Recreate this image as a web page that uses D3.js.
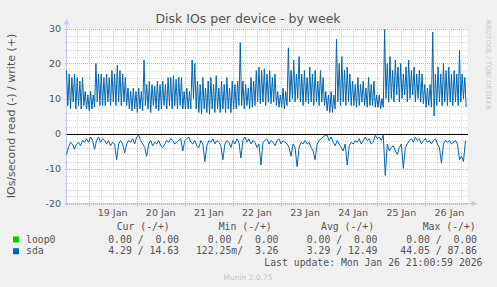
<!DOCTYPE html>
<html>
<head>
<meta charset="utf-8">
<script src="https://cdn.jsdelivr.net/npm/d3@7"></script>
<style>
  body { margin: 0; background: #f0f0f0; }
  svg { display: block; }
  text { font-family: "DejaVu Sans", sans-serif; fill: #555; }
  .mono { font-family: "DejaVu Sans Mono", monospace; white-space: pre; }
</style>
</head>
<body>
<div id="chart"></div>
<script>
const width = 497, height = 287;

// sda write (+), one value every 40 minutes from 18 Jan 13:00
const sdaWrite = [
  18, 8, 17, 7, 16, 9, 17, 7, 16, 8,
  15, 7, 16, 8, 12, 7, 11, 6.5, 12, 7,
  11, 7.5, 20, 9, 17, 8, 17, 8, 16, 8,
  17, 9, 16, 8, 18, 9, 17, 8, 19.5, 9,
  18, 8, 17, 9, 16, 8, 13, 7, 12, 6.5,
  13, 7, 12, 6, 13, 7, 12, 6.5, 21, 8,
  14, 7, 15, 6, 14, 8, 13.5, 7, 15, 6.5,
  14, 7, 15, 8, 14, 7, 16, 8, 16, 7,
  16.5, 8, 15.5, 7, 16, 8, 16, 7, 12, 7,
  13, 7, 12, 7, 21, 10, 20, 7, 15, 6,
  14, 5.5, 16, 7, 13, 6, 15, 5.5, 16, 7,
  14, 6, 16.5, 7, 13, 6, 15, 7, 14, 6,
  16, 7, 13, 6, 15, 7, 14, 7, 15, 8,
  26, 8, 15, 7, 14, 8, 13, 7, 16, 7.5,
  15, 8, 18, 9, 19, 8.5, 18, 9, 18.5, 8,
  17, 9, 18, 8.5, 16, 9, 17, 8, 12, 7.5,
  11, 7.5, 13, 7, 12, 8, 24.5, 9, 18, 10,
  21, 9, 17, 10, 22, 9, 17, 8, 18, 9,
  16, 8.5, 19, 9, 17, 8, 18, 9, 15, 8,
  18, 9, 16, 8, 12, 6.5, 11, 6, 12, 6,
  11, 7, 27, 9, 20, 8, 22, 9, 18, 8,
  19, 9, 17, 8, 15, 8, 14, 7.5, 16, 8,
  14, 9, 15, 8, 13, 7.5, 16, 8, 14, 8,
  15, 7.5, 11, 7.5, 11, 7, 10, 7.5, 29.7, 10,
  20, 9, 22, 10, 18, 9, 21, 11, 19, 9,
  20, 10, 17, 11, 19, 9, 21, 10, 18, 11,
  19, 9, 17, 10, 18, 9, 17, 8.5, 14, 7.5,
  13, 8, 14, 7.5, 29, 5, 17, 8, 19, 9,
  17, 8, 20, 9, 18, 8, 19, 9, 17, 8,
  18, 9, 17, 8, 23.7, 9, 17, 10, 16, 7.6
];

// sda read (-), one value every hour from 18 Jan 13:00
const sdaRead = [
  -6, -4, -2.5, -3, -4.5, -3, -2.5, -3.5, -2, -2.5,
  -1.5, -2.5, -1, -2, -4.5, -2, -1, -2.5, -1.5, -2,
  -3, -2, -3.5, -2.5, -3, -7.5, -3, -2, -3, -5.5,
  -3, -2, -2.5, -1.5, -3, -1, -0.5, -2, -3, -4,
  -6.5, -3, -2, -3.5, -2.5, -3, -2, -3.5, -4, -3,
  -2, -2.5, -1.5, -2, -3, -2.5, -2, -1.5, -5, -2,
  -1.5, -1, -2.5, -3, -2, -3.5, -4, -2, -3, -8,
  -3.5, -2, -2.5, -1.5, -3, -2, -2.5, -3.5, -7.5, -3,
  -2, -2.5, -4, -2, -3, -1.5, -2.5, -7, -2, -1,
  -2.5, -1.5, -3, -2, -2.5, -4, -3, -9, -2.5, -2,
  -1.5, -3, -2, -2.5, -3.5, -2, -1.5, -3, -2, -2.5,
  -3, -4, -6.5, -3, -4, -9.5, -4, -2.5, -3, -2,
  -3, -2.5, -4, -5, -7.5, -3, -2, -1.5, -1, -0.5,
  -0.5, -2, -1, -2.5, -3.5, -2, -3, -4, -5, -3,
  -9, -3.5, -2.5, -3, -2, -2.5, -1.5, -3, -2, -1,
  -2, -1.5, -3, -2.5, -0.5, -1.5, -1, -2, -0.5, -12,
  -3, -5, -4, -3.5, -5, -6, -4, -3, -10, -4,
  -3, -2, -1.5, -2.5, -1, -2, -1.5, -3, -2, -1.5,
  -2.5, -2, -3, -2, -1.5, -3, -4, -8.5, -3, -2,
  -2.5, -2, -3, -2.5, -2, -3, -7.5, -6.5, -8, -2
];

const yTicks = [30, 20, 10, 0, -10, -20];
const dayLabels = ["19 Jan", "20 Jan", "21 Jan", "22 Jan", "23 Jan", "24 Jan", "25 Jan", "26 Jan"];

const legendNames = ["loop0", "sda"];
const legendColors = ["#00cc00", "#0066b3"];
const legendCur = ["0.00 /  0.00", "4.29 / 14.63"];
const legendMin = ["0.00 /  0.00", "122.25m/  3.26"];
const legendAvg = ["0.00 /  0.00", "3.29 / 12.49"];
const legendMax = ["0.00 /  0.00", "44.05 / 87.86"];

const start = new Date(2026, 0, 18, 13);
const end = new Date(2026, 0, 26, 21);
const plot = {left: 66.5, right: 467.5, top: 28.5, bottom: 203.5};

const x = d3.scaleTime().domain([start, end]).range([plot.left, plot.right]);
const y = d3.scaleLinear().domain([-20, 30]).range([plot.bottom, plot.top]);

const svg = d3.select("#chart").append("svg")
  .attr("width", width)
  .attr("height", height);

svg.append("rect").attr("width", width).attr("height", height).attr("fill", "#f0f0f0");
svg.append("rect")
  .attr("x", plot.left).attr("y", plot.top)
  .attr("width", plot.right - plot.left).attr("height", plot.bottom - plot.top)
  .attr("fill", "#fff");

// grid
const grid = svg.append("g").attr("shape-rendering", "crispEdges").attr("stroke-dasharray", "1,1");
const minorY = d3.range(-20, 31, 2).filter(v => v % 10 !== 0);
grid.selectAll(".hmin").data(minorY).join("line")
  .attr("x1", plot.left - 2).attr("x2", plot.right)
  .attr("y1", d => Math.round(y(d)) + 0.5).attr("y2", d => Math.round(y(d)) + 0.5)
  .attr("stroke", "#dadada");
const sixHours = d3.timeHour.every(6).range(start, end).filter(d => d.getHours() !== 0);
grid.selectAll(".vmin").data(sixHours).join("line")
  .attr("x1", d => Math.round(x(d)) + 0.5).attr("x2", d => Math.round(x(d)) + 0.5)
  .attr("y1", plot.top).attr("y2", plot.bottom + 2)
  .attr("stroke", "#dadada");
grid.selectAll(".hmaj").data(yTicks).join("line")
  .attr("x1", plot.left - 2).attr("x2", plot.right)
  .attr("y1", d => Math.round(y(d)) + 0.5).attr("y2", d => Math.round(y(d)) + 0.5)
  .attr("stroke", "#f2a6a6");
const days = d3.timeDay.range(start, end);
grid.selectAll(".vmaj").data(days).join("line")
  .attr("x1", d => Math.round(x(d)) + 0.5).attr("x2", d => Math.round(x(d)) + 0.5)
  .attr("y1", plot.top).attr("y2", plot.bottom + 2)
  .attr("stroke", "#f2a6a6");

// axes with arrows
const axisColor = "#c8c8f4";
svg.append("line")
  .attr("x1", plot.left).attr("x2", plot.left)
  .attr("y1", plot.bottom + 2).attr("y2", plot.top - 6)
  .attr("stroke", axisColor);
svg.append("path")
  .attr("d", `M${plot.left - 3},${plot.top - 4}L${plot.left},${plot.top - 10}L${plot.left + 3},${plot.top - 4}Z`)
  .attr("fill", axisColor);
svg.append("line")
  .attr("x1", plot.left - 2).attr("x2", plot.right + 6)
  .attr("y1", plot.bottom).attr("y2", plot.bottom)
  .attr("stroke", axisColor);
svg.append("path")
  .attr("d", `M${plot.right + 4},${plot.bottom - 3}L${plot.right + 10},${plot.bottom}L${plot.right + 4},${plot.bottom + 3}Z`)
  .attr("fill", axisColor);

// data lines
const lineWrite = d3.line()
  .x((d, i) => x(d3.timeMinute.offset(start, i * 40)))
  .y(d => y(d));
const lineRead = d3.line()
  .x((d, i) => x(d3.timeHour.offset(start, i)))
  .y(d => y(d));

svg.append("path").datum(sdaRead)
  .attr("d", lineRead).attr("fill", "none")
  .attr("stroke", "#0066b3").attr("stroke-width", 1);
svg.append("path").datum(sdaWrite)
  .attr("d", lineWrite).attr("fill", "none")
  .attr("stroke", "#0066b3").attr("stroke-width", 1);

// zero rule
svg.append("line")
  .attr("x1", plot.left).attr("x2", plot.right)
  .attr("y1", Math.round(y(0)) + 0.5).attr("y2", Math.round(y(0)) + 0.5)
  .attr("stroke", "#000").attr("shape-rendering", "crispEdges");

// tick labels
svg.append("g").selectAll("text").data(yTicks).join("text")
  .attr("x", 61).attr("y", d => y(d) + 3.5)
  .attr("text-anchor", "end").attr("font-size", 9.5)
  .text(d => d);

svg.append("g").selectAll("text").data(dayLabels).join("text")
  .attr("x", (d, i) => x(d3.timeHour.offset(days[i], 12)))
  .attr("y", 216)
  .attr("text-anchor", "middle").attr("font-size", 9.5)
  .text(d => d);

// title and labels
svg.append("text")
  .attr("x", 248).attr("y", 22.5)
  .attr("text-anchor", "middle").attr("font-size", 12.5)
  .text("Disk IOs per device - by week");

svg.append("text")
  .attr("transform", `translate(14.5,116) rotate(-90)`)
  .attr("text-anchor", "middle").attr("font-size", 11)
  .text("IOs/second read (-) / write (+)");

svg.append("text")
  .attr("transform", `translate(486,20) rotate(90)`)
  .attr("font-size", 7).style("fill", "#c8c8c8")
  .text("RRDTOOL / TOBI OETIKER");

// legend
const legend = svg.append("g").attr("class", "mono").attr("font-size", 9.8);
const heads = [["Cur (-/+)", 116.7], ["Min (-/+)", 218.7], ["Avg (-/+)", 321], ["Max (-/+)", 422.7]];
legend.selectAll(".head").data(heads).join("text")
  .attr("class", "mono").attr("x", d => d[1]).attr("y", 230)
  .text(d => d[0]);

const rows = legend.selectAll(".row").data(legendNames).join("g")
  .attr("transform", (d, i) => `translate(0,${242.5 + i * 11.7})`);
rows.append("rect")
  .attr("x", 13).attr("y", -6).attr("width", 6).attr("height", 6)
  .attr("fill", (d, i) => legendColors[i]);
rows.append("text").attr("class", "mono").attr("x", 26).text(d => d);
const cols = [[legendCur, 179], [legendMin, 278.5], [legendAvg, 377.5], [legendMax, 477]];
cols.forEach(([vals, cx]) => {
  rows.append("text").attr("class", "mono")
    .attr("x", cx).attr("text-anchor", "end")
    .text((d, i) => vals[i]);
});

legend.append("text").attr("class", "mono")
  .attr("x", 482.5).attr("y", 266).attr("text-anchor", "end")
  .text("Last update: Mon Jan 26 21:00:59 2026");

svg.append("text")
  .attr("x", 248).attr("y", 280).attr("text-anchor", "middle")
  .attr("font-size", 7.5).style("fill", "#c4c4c4")
  .text("Munin 2.0.75");
</script>
</body>
</html>
